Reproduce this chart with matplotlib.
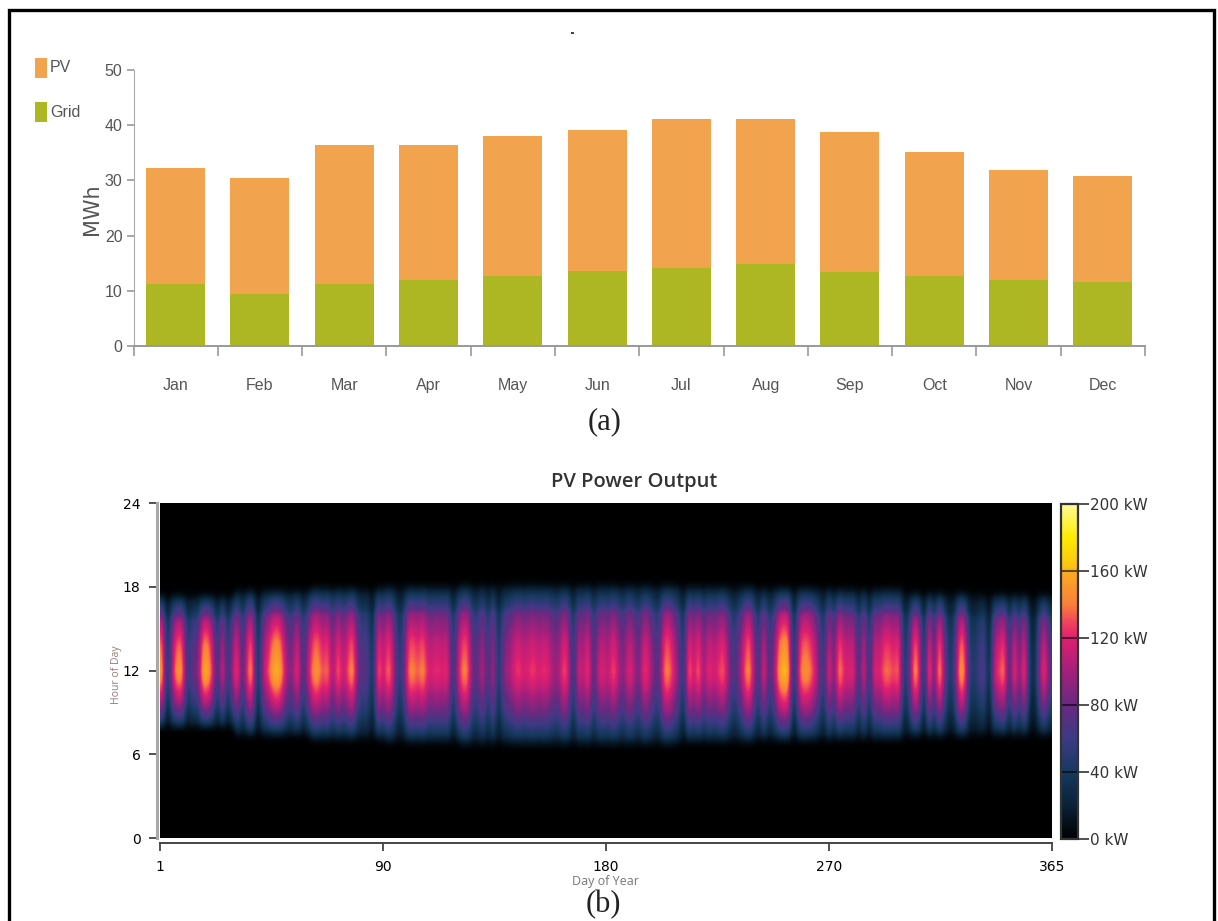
import numpy as np
import matplotlib
matplotlib.use('Agg')
import matplotlib.pyplot as plt
from matplotlib.colors import LinearSegmentedColormap
from matplotlib.patches import Rectangle

W, H = 1218, 921

months = ['Jan', 'Feb', 'Mar', 'Apr', 'May', 'Jun', 'Jul', 'Aug', 'Sep', 'Oct', 'Nov', 'Dec']
totals = [32.2, 30.4, 36.5, 36.5, 38.0, 39.1, 41.2, 41.2, 38.7, 35.1, 31.8, 30.8]
grid_mwh = [11.2, 9.5, 11.2, 12.0, 12.7, 13.5, 14.2, 14.9, 13.4, 12.7, 12.0, 11.6]

# noon output in kW, read across the heat map left to right (one value per 5 px)
noon_kw_q1 = [158, 20, 118, 152, 150, 45, 85, 75, 158, 160, 125, 45, 138, 40, 105,
              138, 55, 138, 150, 15, 105, 125, 155, 165, 138, 90, 90, 138, 55, 105,
              145, 152, 125, 145, 90, 145, 105, 130, 155, 80, 70, 75, 20, 150, 105]
noon_kw_q2 = [145, 115, 50, 60, 140, 145, 130, 150, 115, 120, 125, 115, 130, 40, 115,
              145, 140, 70, 80, 115, 50, 120, 30, 90, 100, 115, 130, 115, 120, 130,
              115, 125, 120, 100, 95, 135, 120, 40, 125, 100, 140, 60, 115, 120, 105]
noon_kw_q3 = [138, 105, 85, 125, 110, 75, 130, 118, 85, 65, 138, 145, 118, 90, 35,
              150, 105, 145, 90, 130, 110, 125, 138, 95, 60, 85, 125, 155, 105, 50,
              138, 60, 90, 152, 165, 160, 20, 130, 150, 145, 125, 90, 45, 138, 70]
noon_kw_q4 = [155, 118, 118, 125, 50, 138, 35, 130, 110, 138, 138, 125, 145, 35, 70,
              155, 130, 20, 160, 60, 168, 90, 40, 55, 152, 150, 50, 45, 60, 75,
              10, 118, 125, 150, 50, 145, 70, 150, 40, 20, 90, 138, 70]

# share of the noon output against hours from noon, scaled to the daylight length
day_frac = [-1.0, -0.91, -0.82, -0.73, -0.51, -0.3, -0.15, 0.0,
            0.31, 0.46, 0.62, 0.69, 0.77, 0.85, 0.92, 1.0]
day_share = [0.0, 0.1, 0.3, 0.42, 0.68, 0.84, 0.95, 1.0,
             0.9, 0.8, 0.68, 0.5, 0.4, 0.25, 0.07, 0.0]
sunrise = [7.5, 6.9, 6.6, 6.4, 6.2, 6.2, 6.2, 6.4, 6.5, 6.6, 6.8, 6.9]
sunset = [17.9, 18.3, 18.5, 18.6, 18.7, 18.7, 18.7, 18.6, 18.5, 18.4, 18.1, 18.0]

y_ticks_bar = [0, 10, 20, 30, 40, 50]
hour_ticks = [0, 6, 12, 18, 24]
day_labels = ['1', '90', '180', '270', '365']
kw_ticks = [0, 40, 80, 120, 160, 200]

cmap_kw = [0, 20, 40, 60, 80, 100, 120, 130, 140, 160, 163, 180, 200]
cmap_colours = ['#000000', '#0b2238', '#17395f', '#3d3a84', '#682a80', '#a3207c',
                '#df1f70', '#f0465c', '#f97f3a', '#fbab22', '#fbc312', '#ffea00', '#fffb96']


def px_axes(fig, left, top, right, bottom):
    return fig.add_axes([left / W, 1 - bottom / H, (right - left) / W, (bottom - top) / H])


def px_text(fig, x, y, s, **kw):
    kw.setdefault('ha', 'center')
    kw.setdefault('va', 'center')
    return fig.text(x / W, 1 - y / H, s, **kw)


def build_heat():
    noon = np.array(noon_kw_q1 + noon_kw_q2 + noon_kw_q3 + noon_kw_q4, dtype=float)
    hours = np.arange(0, 24.01, 0.25)
    out = np.zeros((len(hours), len(noon)))
    for col, peak in enumerate(noon):
        month = int(col / len(noon) * 12)
        frac = np.where(hours < 12,
                        (hours - 12) / (12 - sunrise[month]),
                        (hours - 12) / (sunset[month] - 12))
        out[:, col] = peak * np.interp(frac, day_frac, day_share)
    return out


fig = plt.figure(figsize=(W / 100, H / 100), dpi=100, facecolor='white')
label_font = 'Liberation Sans'
label_grey = '#555555'

# outer frame, open at the bottom of the page
fig.add_artist(Rectangle((8.5 / W, -0.05), (1214 - 8.5) / W, 1.05 - 10 / H, transform=fig.transFigure,
                         fill=False, edgecolor='black', linewidth=2.4))
fig.add_artist(Rectangle((571 / W, 1 - 34.5 / H), 2.5 / W, 2.5 / H, transform=fig.transFigure,
                         facecolor='#444444', edgecolor='none'))

# (a) monthly energy
ax = px_axes(fig, 133.5, 70, 1145, 346)
xpos = np.arange(12) + 0.5
pv_mwh = [t - g for t, g in zip(totals, grid_mwh)]
ax.bar(xpos, grid_mwh, width=0.7, color='#adb723')
ax.bar(xpos, pv_mwh, width=0.7, bottom=grid_mwh, color='#f1a34e')
ax.set_xlim(0, 12)
ax.set_ylim(0, 50)
ax.set_yticks(y_ticks_bar)
ax.set_yticklabels([str(v) for v in y_ticks_bar], family=label_font, fontsize=11.5, color=label_grey)
ax.set_xticks(np.arange(13))
ax.set_xticklabels([])
ax.set_xticks(xpos, minor=True)
ax.set_xticklabels(months, minor=True, family=label_font, fontsize=11.5, color=label_grey)
ax.tick_params(axis='x', which='minor', length=0, pad=23)
ax.tick_params(axis='x', which='major', length=7, color='#999999', width=1.2)
ax.tick_params(axis='y', length=5, color='#999999', width=1.2, pad=3)
for side in ['top', 'right']:
    ax.spines[side].set_visible(False)
ax.spines['left'].set_color('#aaaaaa')
ax.spines['bottom'].set_color('#999999')
ax.spines['bottom'].set_linewidth(1.4)
px_text(fig, 92, 209, 'MWh', rotation=90, fontsize=15, color=label_grey)

for y0, y1, colour, name in [(58, 78, '#f1a34e', 'PV'), (102, 122, '#adb723', 'Grid')]:
    fig.add_artist(Rectangle((35 / W, 1 - y1 / H), 12 / W, (y1 - y0) / H, transform=fig.transFigure,
                             facecolor=colour, edgecolor='none'))
    px_text(fig, 50, (y0 + y1) / 2, name, ha='left', family=label_font, fontsize=11.5, color=label_grey)

px_text(fig, 605, 422, '(a)', family='Liberation Serif', fontsize=22, color='#222222')

# (b) PV power heat map
ax2 = px_axes(fig, 160, 503, 1052, 838)
kw_cmap = LinearSegmentedColormap.from_list('kw', [(k / 200, c) for k, c in zip(cmap_kw, cmap_colours)])
im = ax2.imshow(build_heat(), origin='lower', aspect='auto', extent=[1, 365, 0, 24],
                cmap=kw_cmap, vmin=0, vmax=200, interpolation='bicubic')
ax2.set_xticks(np.linspace(1, 365, 5))
ax2.set_xticklabels(day_labels, fontsize=11.5, color='#333333')
ax2.set_yticks(hour_ticks)
ax2.set_yticklabels([str(v) for v in hour_ticks], fontsize=11.5, color='#333333')
ax2.tick_params(axis='x', length=6, width=1.2, color='#333333', pad=6)
ax2.tick_params(axis='y', length=6, width=1.2, color='#333333', pad=6)
for side in ['top', 'right']:
    ax2.spines[side].set_visible(False)
ax2.spines['left'].set_position(('outward', 2))
ax2.spines['left'].set_color('#a8a8a8')
ax2.spines['left'].set_linewidth(2.2)
ax2.spines['bottom'].set_position(('outward', 3.5))
ax2.spines['bottom'].set_color('#444444')
ax2.spines['bottom'].set_linewidth(1.4)
px_text(fig, 634, 482, 'PV Power Output', family='Open Sans', weight='semibold', fontsize=14.5, color='#333333')
px_text(fig, 606, 881, 'Day of Year', family='Open Sans', fontsize=9, color='#777777')
px_text(fig, 117, 675, 'Hour of Day', rotation=90, family='Open Sans', fontsize=7.5, color='#9a7a7a')
px_text(fig, 603, 905, '(b)', family='Liberation Serif', fontsize=22, color='#222222')

cax = px_axes(fig, 1060.5, 504, 1077.5, 839)
cb = fig.colorbar(im, cax=cax)
cb.set_ticks(kw_ticks)
cb.set_ticklabels([f'{v} kW' for v in kw_ticks], fontsize=11, color='#333333')
cb.ax.tick_params(length=8, width=1.2, color='#333333', pad=1)
cb.ax.hlines(kw_ticks[1:-1], 0, 1, colors='#000000', linewidth=1.4, alpha=0.6)
cb.outline.set_edgecolor('#333333')
cb.outline.set_linewidth(1.6)

fig.savefig('out.png', dpi=100, facecolor='white')
